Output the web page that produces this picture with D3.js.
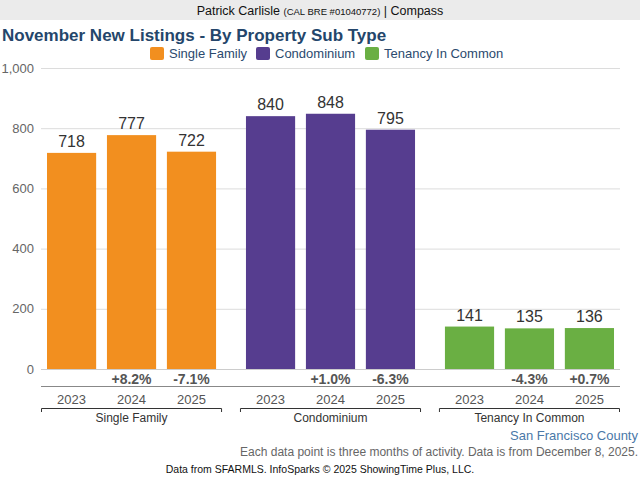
<!DOCTYPE html>
<html>
<head>
<meta charset="utf-8">
<script src="https://cdn.jsdelivr.net/npm/d3@7"></script>
<style>
  body { margin: 0; background: #fff; }
  svg { display: block; font-family: "Liberation Sans", Arial, sans-serif; }
</style>
</head>
<body>
<div id="chart"></div>
<script>
// Data
const groups = ["Single Family", "Condominium", "Tenancy In Common"];
const years = ["2023", "2024", "2025"];
const singleFamily = [718, 777, 722];
const condominium = [840, 848, 795];
const tenancyInCommon = [141, 135, 136];
const changes = [
    ["", "+8.2%", "-7.1%"],
    ["", "+1.0%", "-6.3%"],
    ["", "-4.3%", "+0.7%"]
];
const yTicks = [0, 200, 400, 600, 800, 1000];
const colors = ["#f28f1f", "#563d8f", "#6aaf43"];

const seriesValues = [singleFamily, condominium, tenancyInCommon];

const width = 640;
const height = 480;

const svg = d3.select("#chart")
    .append("svg")
    .attr("width", width)
    .attr("height", height);

// Header band
svg.append("rect")
    .attr("x", 0).attr("y", 0)
    .attr("width", width).attr("height", 20)
    .attr("fill", "#ebebeb");

const header = svg.append("text")
    .attr("x", width / 2).attr("y", 15)
    .attr("text-anchor", "middle")
    .attr("fill", "#111")
    .style("font-size", "12.5px");
header.append("tspan").text("Patrick Carlisle ");
header.append("tspan").style("font-size", "9.5px").text("(CAL BRE #01040772)");
header.append("tspan").text(" | Compass");

// Title
svg.append("text")
    .attr("x", 2).attr("y", 41)
    .attr("fill", "#24466b")
    .style("font-size", "17px")
    .style("font-weight", "bold")
    .text("November New Listings - By Property Sub Type");

// Legend
const legendX = [150, 256, 365];
const legend = svg.selectAll(".legend")
    .data(groups)
    .enter()
    .append("g")
    .attr("class", "legend")
    .attr("transform", (d, i) => `translate(${legendX[i]}, 47)`);

legend.append("rect")
    .attr("width", 14).attr("height", 13)
    .attr("rx", 2)
    .attr("fill", (d, i) => colors[i]);

legend.append("text")
    .attr("x", 19).attr("y", 11)
    .attr("fill", "#2b4a6e")
    .style("font-size", "13px")
    .text(d => d);

// Scales
const x0 = d3.scaleBand()
    .domain(groups)
    .range([41, 620])
    .paddingInner(0.09);

const x1 = d3.scaleBand()
    .domain(years)
    .range([0, x0.bandwidth()])
    .paddingInner(0.18)
    .paddingOuter(0.1);

const y = d3.scaleLinear()
    .domain([0, 1000])
    .range([369, 68]);

// Grid lines and y labels
svg.selectAll(".grid")
    .data(yTicks.filter(d => d > 0))
    .enter()
    .append("line")
    .attr("x1", 41).attr("x2", 620)
    .attr("y1", d => y(d) + 0.5).attr("y2", d => y(d) + 0.5)
    .attr("stroke", "#dcdcdc");

svg.selectAll(".ylabel")
    .data(yTicks)
    .enter()
    .append("text")
    .attr("x", 34)
    .attr("y", d => y(d) + 4.5)
    .attr("text-anchor", "end")
    .attr("fill", "#666")
    .style("font-size", "13px")
    .text(d => d3.format(",")(d));

// Bars
const groupG = svg.selectAll(".group")
    .data(groups)
    .enter()
    .append("g")
    .attr("transform", d => `translate(${x0(d)}, 0)`);

groupG.each(function(g, gi) {
    const data = years.map((yr, i) => ({ year: yr, value: seriesValues[gi][i], change: changes[gi][i] }));
    const sel = d3.select(this);

    sel.selectAll("rect")
        .data(data)
        .enter()
        .append("rect")
        .attr("x", d => x1(d.year))
        .attr("y", d => y(d.value))
        .attr("width", x1.bandwidth())
        .attr("height", d => y(0) - y(d.value))
        .attr("fill", colors[gi]);

    // value labels
    sel.selectAll(".val")
        .data(data)
        .enter()
        .append("text")
        .attr("x", d => x1(d.year) + x1.bandwidth() / 2)
        .attr("y", d => y(d.value) - 6)
        .attr("text-anchor", "middle")
        .attr("fill", "#333")
        .style("font-size", "16px")
        .text(d => d.value);

    // percent change
    sel.selectAll(".chg")
        .data(data)
        .enter()
        .append("text")
        .attr("x", d => x1(d.year) + x1.bandwidth() / 2)
        .attr("y", 383.5)
        .attr("text-anchor", "middle")
        .attr("fill", "#555")
        .style("font-size", "14px")
        .style("font-weight", "bold")
        .text(d => d.change);

    // years
    sel.selectAll(".yr")
        .data(data)
        .enter()
        .append("text")
        .attr("x", d => x1(d.year) + x1.bandwidth() / 2)
        .attr("y", 403.5)
        .attr("text-anchor", "middle")
        .attr("fill", "#555")
        .style("font-size", "13px")
        .text(d => d.year);

    // bracket
    const bw = x0.bandwidth();
    sel.append("path")
        .attr("d", `M0.5,412V408.5H${bw - 0.5}V412`)
        .attr("fill", "none")
        .attr("stroke", "#333");

    sel.append("text")
        .attr("x", bw / 2)
        .attr("y", 421.5)
        .attr("text-anchor", "middle")
        .attr("fill", "#333")
        .style("font-size", "12px")
        .text(g);
});

// Baseline and axis line
svg.append("line")
    .attr("x1", 41).attr("x2", 620)
    .attr("y1", y(0) + 0.5).attr("y2", y(0) + 0.5)
    .attr("stroke", "#ccc");

svg.append("line")
    .attr("x1", 41).attr("x2", 620)
    .attr("y1", 386.5).attr("y2", 386.5)
    .attr("stroke", "#888");

// Footer texts
svg.append("text")
    .attr("x", 638).attr("y", 440)
    .attr("text-anchor", "end")
    .attr("fill", "#4a78a8")
    .style("font-size", "13px")
    .text("San Francisco County");

svg.append("text")
    .attr("x", 638).attr("y", 456)
    .attr("text-anchor", "end")
    .attr("fill", "#666")
    .style("font-size", "12px")
    .text("Each data point is three months of activity. Data is from December 8, 2025.");

svg.append("text")
    .attr("x", 320).attr("y", 473)
    .attr("text-anchor", "middle")
    .attr("fill", "#111")
    .style("font-size", "10.5px")
    .text("Data from SFARMLS. InfoSparks © 2025 ShowingTime Plus, LLC.");
</script>
</body>
</html>
